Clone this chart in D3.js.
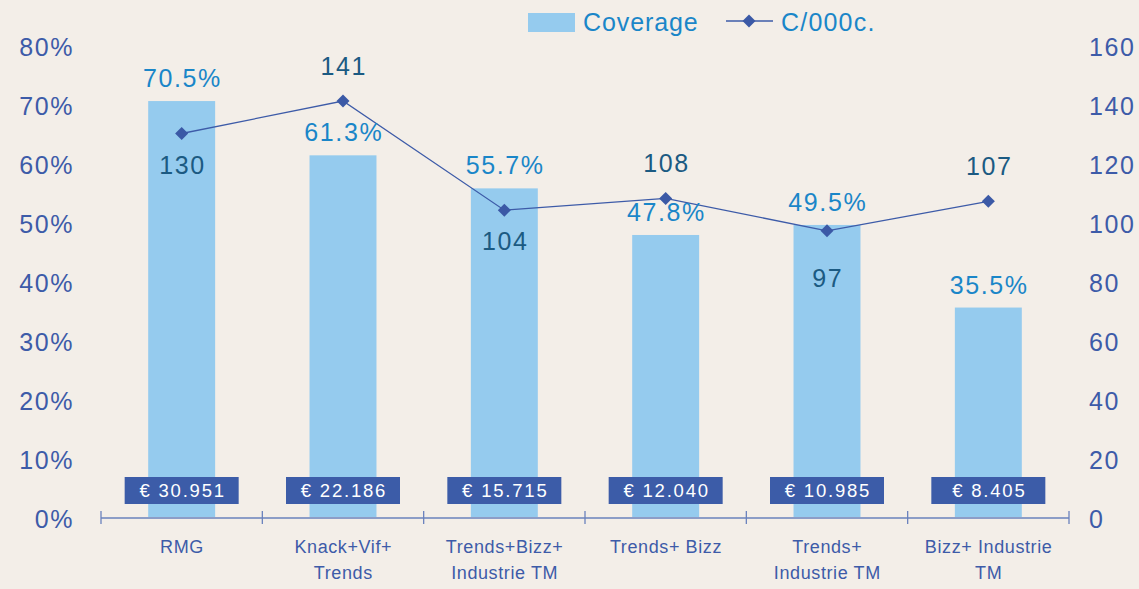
<!DOCTYPE html>
<html><head><meta charset="utf-8">
<script src="https://cdn.jsdelivr.net/npm/d3@7"></script>
<style>
html,body{margin:0;padding:0;background:#f3eee8;}
svg{display:block;font-family:"Liberation Sans",Arial,Helvetica,sans-serif;}
</style></head>
<body>
<svg id="c" width="1139" height="589"></svg>
<script>
const categories = [["RMG"],["Knack+Vif+","Trends"],["Trends+Bizz+","Industrie TM"],["Trends+ Bizz"],["Trends+","Industrie TM"],["Bizz+ Industrie","TM"]];
const coverage = [70.5, 61.3, 55.7, 47.8, 49.5, 35.5];
const costPer000 = [130, 141, 104, 108, 97, 107];
const budgets = ["€ 30.951","€ 22.186","€ 15.715","€ 12.040","€ 10.985","€ 8.405"];
const leftTicks = [0,10,20,30,40,50,60,70,80];
const rightTicks = [0,20,40,60,80,100,120,140,160];
const costLabelSide = ["below","above","below","above","below","above"];

const svg = d3.select("#c");
const W = 1139, H = 589;
svg.append("rect").attr("width",W).attr("height",H).attr("fill","#f3eee8");

const x = d3.scaleBand().domain(d3.range(categories.length)).range([101,1069]).paddingInner(0.585).paddingOuter(0.2925);
const yL = d3.scaleLinear().domain([0,80]).range([517,45]);
const yR = d3.scaleLinear().domain([0,160]).range([517,45]);
const cx = i => x(i)+x.bandwidth()/2;

const axisColor = "#3d5ba8";
const bigLS = 1.6;

// bars
svg.selectAll("rect.bar").data(coverage).join("rect").attr("class","bar")
  .attr("x",(d,i)=>x(i)).attr("width",x.bandwidth())
  .attr("y",d=>yL(d)).attr("height",d=>yL(0)-yL(d)).attr("fill","#95cbee");

// x axis
const xa = svg.append("g");
xa.append("line").attr("x1",101).attr("x2",1069).attr("y1",518).attr("y2",518).attr("stroke","#6a82bd").attr("stroke-width",1.3);
const step = (1069-101)/categories.length;
d3.range(categories.length+1).forEach(i=>{
  xa.append("line").attr("x1",101+i*step).attr("x2",101+i*step).attr("y1",511).attr("y2",524).attr("stroke","#6a82bd").attr("stroke-width",1.3);
});
categories.forEach((lines,i)=>{
  const t = xa.append("text").attr("text-anchor","middle").attr("fill",axisColor).attr("font-size",18).attr("letter-spacing",0.6);
  lines.forEach((l,j)=>t.append("tspan").attr("x",cx(i)+0.3).attr("y",553+j*26).text(l));
});

// budget boxes
budgets.forEach((b,i)=>{
  svg.append("rect").attr("x",cx(i)-57).attr("y",477).attr("width",114).attr("height",27).attr("fill","#3c5ca8");
  svg.append("text").attr("x",cx(i)+1).attr("y",497).attr("text-anchor","middle").attr("fill","#ffffff")
    .attr("font-size",18.5).attr("letter-spacing",1.8).text(b);
});

// left axis labels
svg.selectAll("text.yl").data(leftTicks).join("text").attr("class","yl")
  .attr("x",74).attr("y",d=>yL(d)+11).attr("text-anchor","end").attr("fill",axisColor).attr("font-size",25).attr("letter-spacing",bigLS)
  .text(d=>d+"%");
// right axis labels
svg.selectAll("text.yr").data(rightTicks).join("text").attr("class","yr")
  .attr("x",1089).attr("y",d=>yR(d)+11).attr("text-anchor","start").attr("fill",axisColor).attr("font-size",25).attr("letter-spacing",bigLS)
  .text(d=>d);

// line
const line = d3.line().x((d,i)=>cx(i)).y(d=>yR(d));
svg.append("path").datum(costPer000).attr("d",line).attr("fill","none").attr("stroke","#3d5ba8").attr("stroke-width",1.3);
svg.selectAll("path.pt").data(costPer000).join("path").attr("class","pt")
  .attr("transform",(d,i)=>`translate(${cx(i)},${yR(d)}) rotate(45)`)
  .attr("d",d3.symbol().type(d3.symbolSquare).size(85)).attr("fill","#3b59a6");

// coverage labels
svg.selectAll("text.cv").data(coverage).join("text").attr("class","cv")
  .attr("x",(d,i)=>cx(i)+bigLS/2).attr("y",d=>yL(d)-14).attr("text-anchor","middle")
  .attr("fill","#1a86c8").attr("font-size",25).attr("letter-spacing",bigLS).text(d=>d.toFixed(1)+"%");

// cost labels
const costOffsets = {above:-26, below:40};
svg.selectAll("text.cp").data(costPer000).join("text").attr("class","cp")
  .attr("x",(d,i)=>cx(i)+bigLS/2)
  .attr("y",(d,i)=> yR(d) + (i===4 ? 56 : costOffsets[costLabelSide[i]]))
  .attr("text-anchor","middle").attr("fill","#1b5a82").attr("font-size",25).attr("letter-spacing",bigLS).text(d=>d);

// legend
const lg = svg.append("g");
lg.append("rect").attr("x",528).attr("y",13).attr("width",47).attr("height",19).attr("fill","#95cbee");
lg.append("text").attr("x",583).attr("y",31).attr("fill","#1a86c8").attr("font-size",25).attr("letter-spacing",0.9).text("Coverage");
lg.append("line").attr("x1",726).attr("x2",773).attr("y1",21).attr("y2",21).attr("stroke","#3d5ba8").attr("stroke-width",1.3);
lg.append("path").attr("transform","translate(749,21) rotate(45)").attr("d",d3.symbol().type(d3.symbolSquare).size(85)).attr("fill","#3b59a6");
lg.append("text").attr("x",781).attr("y",31).attr("fill","#1a86c8").attr("font-size",25).attr("letter-spacing",1.2).text("C/000c.");
</script>
</body></html>
